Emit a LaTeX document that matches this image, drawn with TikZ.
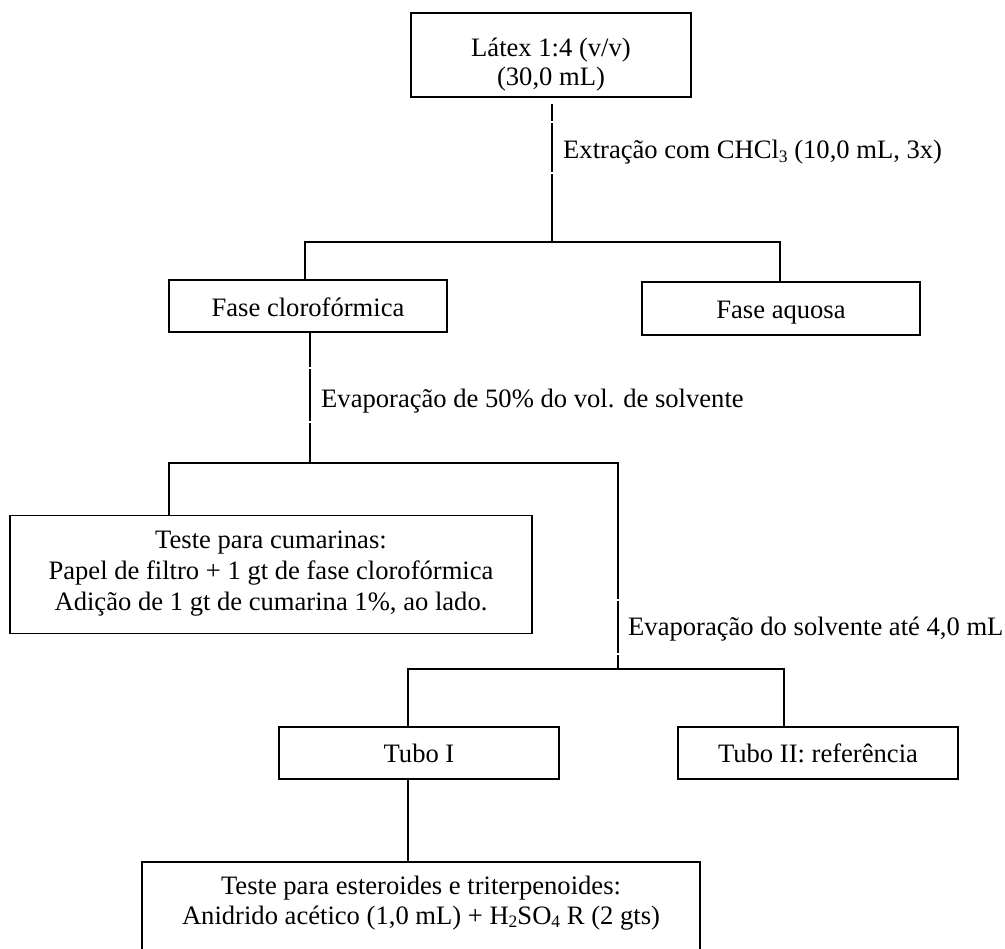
\documentclass[tikz,border=0pt]{standalone}
\usepackage{fontspec}
\setmainfont{Liberation Serif}
\newcommand{\lowidx}[1]{\raisebox{-3.5pt}{\fontsize{17.5}{17.5}\selectfont #1}}
\begin{document}
\begin{tikzpicture}[x=1pt, y=-1pt,
  font=\fontsize{26.6}{30.6}\selectfont,
  frame/.style={draw, line width=1.6pt, inner sep=0pt, rectangle},
  txt/.style={anchor=base, inner sep=0pt},
  lbl/.style={anchor=base west, inner sep=0pt},
  link/.style={line width=1.6pt, line join=miter},
  gap/.style={fill=white}]
\useasboundingbox (0,0) rectangle (1005,949);
\clip (0,0) rectangle (1005,949);

% boxes
\node[frame, minimum width=280pt, minimum height=84pt]  (latex) at (551,55)    {};
\node[frame, minimum width=278pt, minimum height=52pt]  (clor)  at (308,306)   {};
\node[frame, minimum width=278pt, minimum height=53pt]  (aq)    at (781,308.5) {};
\node[frame, minimum width=522pt, minimum height=118pt] (cum)   at (271,574.5) {};
\node[frame, minimum width=280pt, minimum height=52pt]  (tuboa) at (419,753)   {};
\node[frame, minimum width=280pt, minimum height=52pt]  (tubob) at (818,753)   {};
\node[frame, minimum width=558pt, minimum height=110pt] (final) at (421,917)   {};

% box texts
\node[txt] (latexA) at (551,57)  {Látex 1:4 (v/v)};
\node[txt] (latexB) at (551,86)  {(30,0 mL)};
\node[txt] (clorT)  at (308,317) {Fase clorofórmica};
\node[txt] (aqT)    at (781,319) {Fase aquosa};
\node[txt] (cumA)   at (271,549) {Teste para cumarinas:};
\node[txt] (cumB)   at (271,579.5) {Papel de filtro + 1 gt de fase clorofórmica};
\node[txt] (cumC)   at (271,610) {Adição de 1 gt de cumarina 1\%, ao lado.};
\node[txt] (tuboaT) at (419,762) {Tubo I};
\node[txt] (tubobT) at (818,762) {Tubo II: referência};
\node[txt] (finalA) at (421,894) {Teste para esteroides e triterpenoides:};
\node[txt] (finalB) at (421,924) {Anidrido acético (1,0 mL) + H\lowidx{2}SO\lowidx{4} R (2 gts)};

% junction points
\coordinate (s1) at (552,104);
\coordinate (j1) at (552,242);
\coordinate (h1a) at (305,242);
\coordinate (h1b) at (780,242);
\coordinate (s2) at (310,332);
\coordinate (j2) at (310,463);
\coordinate (h2a) at (169,463);
\coordinate (h2b) at (618,463);
\coordinate (h3a) at (408,669);
\coordinate (h3b) at (784,669);
\coordinate (j3) at (618,669);

% connectors
\draw[link] (s1) -- (j1);
\draw[link] (h1a |- clor.north) -- (h1a) -- (h1b) -- (h1b |- aq.north);
\draw[link] (s2) -- (j2);
\draw[link] (h2a |- cum.north) -- (h2a) -- (h2b) -- (j3);
\draw[link] (h3a |- tuboa.north) -- (h3a) -- (h3b) -- (h3b |- tubob.north);
\draw[link] (h3a |- tuboa.south) -- (h3a |- final.north);

% small breaks where the label frames cross the stems
\fill[gap] (548,121.5) rectangle (556,123.5);
\fill[gap] (548,172.5) rectangle (556,174.5);
\fill[gap] (306,367.5) rectangle (314,369.5);
\fill[gap] (306,421.5) rectangle (314,423.5);
\fill[gap] (614,599.5) rectangle (622,601.5);
\fill[gap] (614,652.5) rectangle (622,654.5);

% step labels
\node[lbl] (step1) at (563,159) {Extração com CHCl\lowidx{3} (10,0 mL, 3x)};
\node[lbl] (step2) at (321,408) {Evaporação de 50\% do vol. de solvente};
\node[lbl] (step3) at (628,635) {Evaporação do solvente até 4,0 mL};
\end{tikzpicture}
\end{document}
